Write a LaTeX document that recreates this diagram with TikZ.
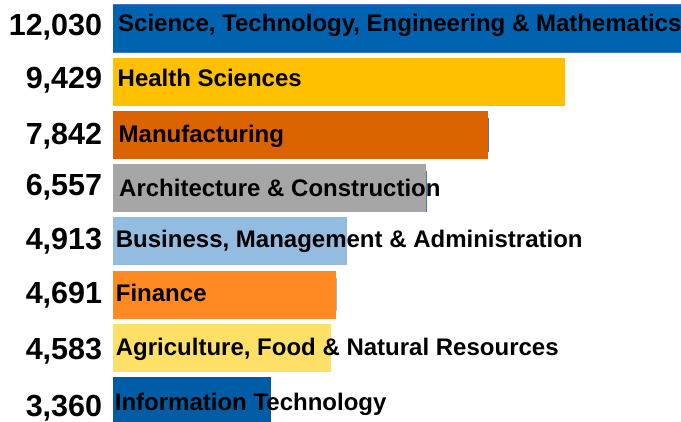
\documentclass[tikz,border=0pt]{standalone}
\usepackage{fontspec}
\setmainfont{Liberation Sans}
\definecolor{cA}{HTML}{0063B0}
\definecolor{cAedge}{HTML}{4472C4}
\definecolor{cB}{HTML}{FFC000}
\definecolor{cC}{HTML}{DB6300}
\definecolor{cD}{HTML}{A6A6A6}
\definecolor{cE}{HTML}{94BCE0}
\definecolor{cF}{HTML}{FF8A22}
\definecolor{cG}{HTML}{FFE066}
\definecolor{cH}{HTML}{005DA5}
\tikzset{
  numlbl/.style={anchor=base east, inner sep=0pt, font=\fontsize{30.5}{30}\selectfont\bfseries},
  catlbl/.style={anchor=base west, inner sep=0pt, font=\fontsize{24}{24}\selectfont\bfseries},
  edgeline/.style={draw=cAedge, line width=1.2pt}
}
\begin{document}
\begin{tikzpicture}[x=1pt,y=-1pt]
\useasboundingbox (0,0) rectangle (681,422);
\fill[white] (0,0) rectangle (681,422);
% bars
\fill[cA] (113,4) rectangle (681,52.7);
\draw[edgeline, line width=0.8pt] (113,4.4) -- (681,4.4);
\draw[edgeline, line width=0.8pt] (113,52.3) -- (681,52.3);
\fill[cB] (113,57.7) rectangle (565,105.7);
\fill[cC] (113,111) rectangle (487.7,158.7);
\draw[edgeline] (488.6,118) -- (488.6,152);
\fill[cD] (113,164) rectangle (425.7,211.7);
\draw[edgeline] (426.3,171) -- (426.3,211.7);
\fill[cE] (113,217) rectangle (346.7,264.7);
\fill[cF] (113,271) rectangle (335.7,318.7);
\draw[edgeline, draw=cE] (336.4,277.7) -- (336.4,311);
\fill[cG] (113,324) rectangle (331,371.7);
\fill[cH] (113,377) rectangle (271,422);
% numbers
\node[numlbl] (n1) at (102.3,35.5) {12,030};
\node[numlbl] (n2) at (102.3,88.5) {9,429};
\node[numlbl] (n3) at (102.3,144.5) {7,842};
\node[numlbl] (n4) at (102.3,195.5) {6,557};
\node[numlbl] (n5) at (102.3,249.3) {4,913};
\node[numlbl] (n6) at (102.3,304) {4,691};
\node[numlbl] (n7) at (102.3,360) {4,583};
\node[numlbl] (n8) at (102.3,416.7) {3,360};
% categories
\node[catlbl] (l1) at (118,31.5) {Science, Technology, Engineering \& Mathematics};
\node[catlbl] (l2) at (117.5,86.5) {Health Sciences};
\node[catlbl] (l3) at (118.5,142.5) {Manufacturing};
\node[catlbl] (l4) at (119,196.5) {Architecture \& Construction};
\node[catlbl] (l5) at (115.7,247.8) {Business, Management \& Administration};
\node[catlbl] (l6) at (115.7,301.7) {Finance};
\node[catlbl] (l7) at (115.7,355.5) {Agriculture, Food \& Natural Resources};
\node[catlbl] (l8) at (114.7,411) {Information Technology};
\end{tikzpicture}
\end{document}
